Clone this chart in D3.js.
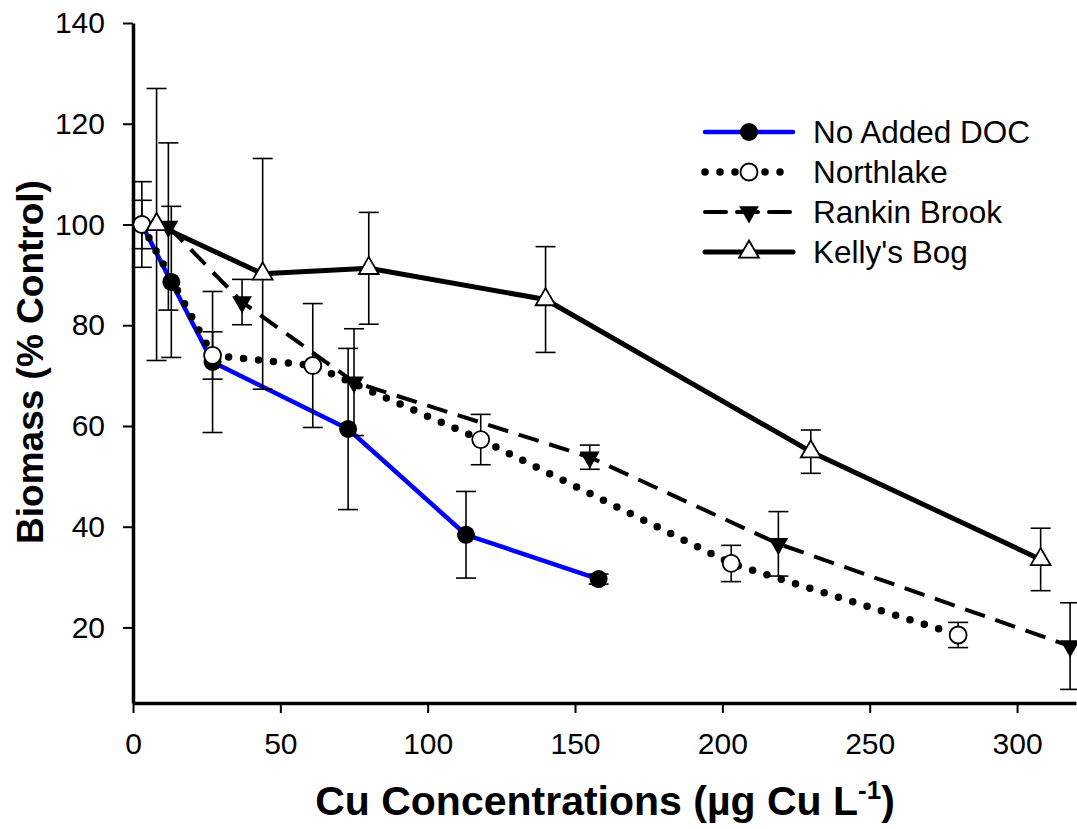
<!DOCTYPE html>
<html lang="en">
	<head>
		<meta charset="utf-8">
		<title>Biomass vs Cu concentration</title>
		<script type="text/javascript" src="https://cdn.jsdelivr.net/npm/d3@7"></script>
		<style type="text/css">
			body { margin: 0; background: #fff; }
			.axis path,
			.axis line {
				fill: none;
				stroke: black;
			}
			.axis text {
				font-family: "Liberation Sans", Arial, sans-serif;
				fill: black;
			}
		</style>
	</head>
	<body>
		<script type="text/javascript">
			// data
			var noDocX = [3, 13, 27, 73, 113, 158];
			var noDocY = [100, 88.6, 72.7, 59.4, 38.4, 29.6];
			var noDocErr = [8.5, 15, 14, 16, 8.6, 1];

			var northX = [3, 27, 61, 118, 203, 280];
			var northY = [100, 74, 72, 57.3, 32.7, 18.5];
			var northErr = [4.8, 4.7, 12.3, 5, 3.6, 2.5];

			var rankinX = [12, 37, 75, 155, 219, 318];
			var rankinY = [99.6, 84.6, 68.7, 53.8, 36.6, 16.3];
			var rankinErr = [16.6, 4.5, 10.6, 2.4, 6.4, 8.6];

			var kellyX = [8, 44, 80, 140, 230, 308];
			var kellyY = [100, 90.2, 91.3, 85.1, 54.9, 33.5];
			var kellyErr = [27, 22.9, 11.1, 10.5, 4.3, 6.2];

			var seriesNames = ["No Added DOC", "Northlake", "Rankin Brook", "Kelly's Bog"];
			var xTicks = [0, 50, 100, 150, 200, 250, 300];
			var yTicks = [20, 40, 60, 80, 100, 120, 140];

			var w = 1077;
			var h = 829;

			var xScale = d3.scaleLinear().domain([0, 320]).range([133, 1076]);
			var yScale = d3.scaleLinear().domain([5, 140]).range([703, 23]);

			function zip(xs, ys, es) {
				return xs.map(function(x, i) { return {x: x, y: ys[i], e: es[i]}; });
			}

			// marker + line style for each series
			var series = [
				{name: seriesNames[0], data: zip(noDocX, noDocY, noDocErr), color: "#0000ff", width: 4.5, dash: null, cap: "butt", marker: "dot"},
				{name: seriesNames[1], data: zip(northX, northY, northErr), color: "black", width: 7.5, dash: "0,15", cap: "round", marker: "circle"},
				{name: seriesNames[2], data: zip(rankinX, rankinY, rankinErr), color: "black", width: 4, dash: "21,11", cap: "butt", marker: "down"},
				{name: seriesNames[3], data: zip(kellyX, kellyY, kellyErr), color: "black", width: 5, dash: null, cap: "butt", marker: "up"}
			];

			var svg = d3.select("body").append("svg").attr("width", w).attr("height", h);
			svg.append("rect").attr("width", w).attr("height", h).attr("fill", "white");

			//axes
			var xAxis = d3.axisBottom(xScale).tickValues(xTicks).tickSize(10).tickSizeOuter(0).tickPadding(20);
			var yAxis = d3.axisLeft(yScale).tickValues(yTicks).tickSize(10).tickSizeOuter(0).tickPadding(18);

			var gx = svg.append("g").attr("class", "axis").attr("transform", "translate(0,703)").call(xAxis);
			gx.select(".domain").attr("stroke-width", 3.5);
			gx.selectAll(".tick line").attr("stroke-width", 2);
			gx.selectAll(".tick text").attr("font-size", "30px");

			var gy = svg.append("g").attr("class", "axis").attr("transform", "translate(133,0)").call(yAxis);
			gy.select(".domain").attr("stroke-width", 3.5);
			gy.selectAll(".tick line").attr("stroke-width", 2);
			gy.selectAll(".tick text").attr("font-size", "30px");

			// axis titles
			var xTitle = svg.append("text")
				.attr("x", 605).attr("y", 815)
				.attr("text-anchor", "middle")
				.attr("font-family", "Liberation Sans, Arial, sans-serif")
				.attr("font-weight", "bold")
				.attr("font-size", "41px");
			xTitle.append("tspan").text("Cu Concentrations (µg Cu L");
			xTitle.append("tspan").attr("font-size", "26px").attr("dy", "-16").text("-1");
			xTitle.append("tspan").attr("dy", "16").text(")");

			svg.append("text")
				.attr("transform", "translate(43,362) rotate(-90)")
				.attr("text-anchor", "middle")
				.attr("font-family", "Liberation Sans, Arial, sans-serif")
				.attr("font-weight", "bold")
				.attr("font-size", "37px")
				.text("Biomass (% Control)");

			var line = d3.line()
				.x(function(d) { return xScale(d.x); })
				.y(function(d) { return yScale(d.y); });

			function drawMarker(sel, kind) {
				if (kind == "dot") {
					sel.append("circle").attr("r", 9).attr("fill", "black");
				} else if (kind == "circle") {
					sel.append("circle").attr("r", 8.5).attr("fill", "white").attr("stroke", "black").attr("stroke-width", 1.8);
				} else if (kind == "down") {
					sel.append("path").attr("d", d3.symbol().type(d3.symbolTriangle).size(170)())
						.attr("transform", "rotate(180)").attr("fill", "black");
				} else {
					sel.append("path").attr("d", d3.symbol().type(d3.symbolTriangle).size(170)())
						.attr("fill", "white").attr("stroke", "black").attr("stroke-width", 1.8);
				}
			}

			series.forEach(function(s) {
				var g = svg.append("g");

				g.append("path")
					.datum(s.data)
					.attr("d", line)
					.attr("fill", "none")
					.attr("stroke", s.color)
					.attr("stroke-width", s.width)
					.attr("stroke-dasharray", s.dash)
					.attr("stroke-linecap", s.cap)
					.attr("stroke-linejoin", "round");

				// error bars
				var eb = g.selectAll(".err")
					.data(s.data)
					.enter()
					.append("g")
					.attr("stroke", "black")
					.attr("stroke-width", 1.6);
				eb.append("line")
					.attr("x1", function(d) { return xScale(d.x); })
					.attr("x2", function(d) { return xScale(d.x); })
					.attr("y1", function(d) { return yScale(d.y + d.e); })
					.attr("y2", function(d) { return yScale(d.y - d.e); });
				eb.append("line")
					.attr("x1", function(d) { return xScale(d.x) - 10; })
					.attr("x2", function(d) { return xScale(d.x) + 10; })
					.attr("y1", function(d) { return yScale(d.y + d.e); })
					.attr("y2", function(d) { return yScale(d.y + d.e); });
				eb.append("line")
					.attr("x1", function(d) { return xScale(d.x) - 10; })
					.attr("x2", function(d) { return xScale(d.x) + 10; })
					.attr("y1", function(d) { return yScale(d.y - d.e); })
					.attr("y2", function(d) { return yScale(d.y - d.e); });

				var m = g.selectAll(".mk")
					.data(s.data)
					.enter()
					.append("g")
					.attr("transform", function(d) {
						return "translate(" + xScale(d.x) + "," + yScale(d.y) + ")";
					});
				drawMarker(m, s.marker);
			});

			// legend
			var leg = svg.append("g").attr("transform", "translate(705,132)");
			series.forEach(function(s, i) {
				var row = leg.append("g").attr("transform", "translate(0," + (i * 40) + ")");
				row.append("line")
					.attr("x1", 0).attr("x2", 88)
					.attr("stroke", s.color)
					.attr("stroke-width", s.width)
					.attr("stroke-dasharray", s.dash)
					.attr("stroke-linecap", "round");
				var mk = row.append("g").attr("transform", "translate(44,0)");
				drawMarker(mk, s.marker);
				row.append("text")
					.attr("x", 108).attr("y", 0).attr("dy", "0.36em")
					.attr("font-family", "Liberation Sans, Arial, sans-serif")
					.attr("font-size", "31.5px")
					.text(s.name);
			});
		</script>
	</body>
</html>
